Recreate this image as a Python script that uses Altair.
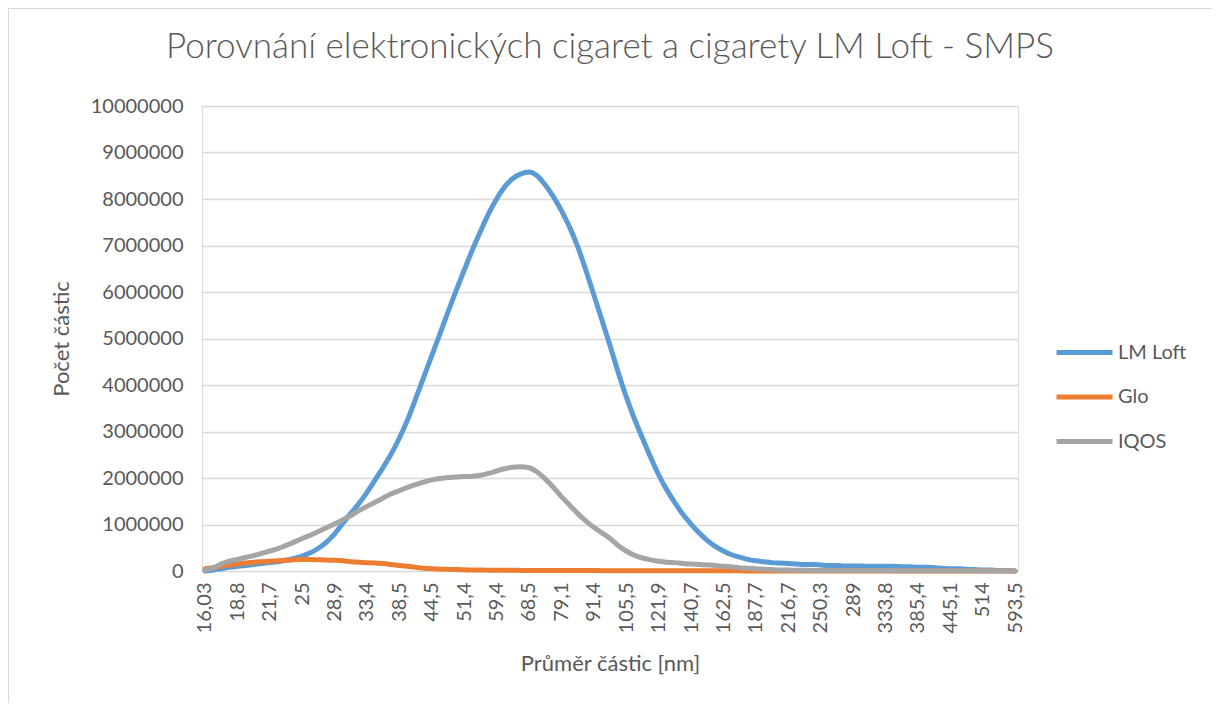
import altair as alt
import pandas as pd

# Category axis: particle diameters (nm) of the SMPS channels
diameters = [
    "16,03", "16,9", "17,5", "18,1", "18,8", "19,5", "20,2", "20,9", "21,7", "22,5",
    "23,3", "24,1", "25", "25,9", "26,9", "27,9", "28,9", "29,9", "31", "32,2",
    "33,4", "34,6", "35,9", "37,2", "38,5", "40", "41,4", "42,9", "44,5", "46,1",
    "47,8", "49,6", "51,4", "53,3", "55,2", "57,3", "59,4", "61,5", "63,8", "66,1",
    "68,5", "71", "73,7", "76,4", "79,1", "82", "85,1", "88,2", "91,4", "94,7",
    "98,2", "101,8", "105,5", "109,4", "113,4", "117,6", "121,9", "126,3", "131", "135,8",
    "140,7", "145,9", "151,2", "156,8", "162,5", "168,5", "174,7", "181,1", "187,7", "194,6",
    "201,7", "209,1", "216,7", "224,7", "232,9", "241,4", "250,3", "259,5", "269", "278,8",
    "289", "299,6", "310,6", "322", "333,8", "346", "358,7", "371,8", "385,4", "399,5",
    "414,2", "429,4", "445,1", "461,4", "478,3", "495,8", "514", "532,8", "552,3", "572,5",
    "593,5",
]

# Tick labels shown on the x axis
tick_labels = [
    "16,03", "18,8", "21,7", "25", "28,9", "33,4", "38,5", "44,5", "51,4", "59,4",
    "68,5", "79,1", "91,4", "105,5", "121,9", "140,7", "162,5", "187,7", "216,7", "250,3",
    "289", "333,8", "385,4", "445,1", "514", "593,5",
]

# Series values in millions of particles
lm_loft = [
    0.00, 0.02, 0.05, 0.08, 0.10, 0.12, 0.14, 0.16, 0.18, 0.20,
    0.23, 0.27, 0.32, 0.39, 0.49, 0.62, 0.80, 1.02, 1.24, 1.45,
    1.69, 1.96, 2.23, 2.52, 2.86, 3.25, 3.70, 4.17, 4.63, 5.10,
    5.57, 6.03, 6.47, 6.90, 7.30, 7.68, 8.00, 8.26, 8.44, 8.54,
    8.58, 8.50, 8.30, 8.05, 7.75, 7.40, 6.98, 6.48, 5.94, 5.40,
    4.85, 4.28, 3.75, 3.28, 2.86, 2.45, 2.07, 1.75, 1.47, 1.22,
    1.01, 0.82, 0.66, 0.53, 0.43, 0.35, 0.30, 0.25, 0.22, 0.20,
    0.18, 0.17, 0.16, 0.15, 0.14, 0.14, 0.13, 0.12, 0.12, 0.11,
    0.11, 0.11, 0.10, 0.10, 0.10, 0.10, 0.09, 0.09, 0.08, 0.08,
    0.07, 0.06, 0.05, 0.05, 0.04, 0.03, 0.02, 0.02, 0.01, 0.01,
    0.00,
]

glo = [
    0.05, 0.07, 0.10, 0.13, 0.15, 0.17, 0.19, 0.20, 0.21, 0.22,
    0.23, 0.24, 0.245, 0.245, 0.24, 0.235, 0.23, 0.22, 0.20, 0.19,
    0.18, 0.17, 0.16, 0.14, 0.12, 0.10, 0.08, 0.06, 0.05, 0.04,
    0.035, 0.03, 0.025, 0.02, 0.02, 0.018, 0.016, 0.015, 0.014, 0.013,
    0.012, 0.012, 0.011, 0.011, 0.010, 0.010, 0.010, 0.009, 0.009, 0.008,
    0.008, 0.008, 0.007, 0.007, 0.007, 0.006, 0.006, 0.006, 0.005, 0.005,
    0.005, 0.004, 0.004, 0.004, 0.003, 0.003, 0.003, 0.002, 0.002, 0.002,
    0.001, 0.001, 0.001, 0.001, 0.001, 0.0, 0.0, 0.0, 0.0, 0.0,
    0.0, 0.0, 0.0, 0.0, 0.0, 0.0, 0.0, 0.0, 0.0, 0.0,
    0.0, 0.0, 0.0, 0.0, 0.0, 0.0, 0.0, 0.0, 0.0, 0.0,
    0.0,
]

iqos = [
    0.02, 0.06, 0.15, 0.21, 0.25, 0.29, 0.33, 0.38, 0.43, 0.48,
    0.55, 0.62, 0.70, 0.77, 0.85, 0.93, 1.01, 1.10, 1.19, 1.30,
    1.39, 1.48, 1.57, 1.66, 1.73, 1.80, 1.86, 1.91, 1.96, 1.99,
    2.01, 2.02, 2.03, 2.04, 2.06, 2.10, 2.15, 2.20, 2.23, 2.24,
    2.22, 2.13, 1.98, 1.80, 1.60, 1.42, 1.24, 1.08, 0.94, 0.82,
    0.70, 0.55, 0.43, 0.34, 0.28, 0.24, 0.21, 0.19, 0.18, 0.16,
    0.15, 0.14, 0.13, 0.12, 0.10, 0.09, 0.07, 0.06, 0.05, 0.04,
    0.03, 0.02, 0.02, 0.015, 0.015, 0.012, 0.012, 0.01, 0.01, 0.01,
    0.01, 0.01, 0.01, 0.01, 0.01, 0.008, 0.008, 0.008, 0.006, 0.006,
    0.005, 0.005, 0.004, 0.004, 0.003, 0.003, 0.002, 0.002, 0.001, 0.001,
    0.0,
]

series_names = ["LM Loft", "Glo", "IQOS"]
series_colors = ["#5B9BD5", "#ED7D31", "#A5A5A5"]

rows = []
for name, vals in zip(series_names, [lm_loft, glo, iqos]):
    for i, (d, v) in enumerate(zip(diameters, vals)):
        rows.append({"d": d, "idx": i, "series": name, "count": v * 1_000_000,
                     "order": series_names.index(name)})
df = pd.DataFrame(rows)

TXT = "#595959"
FONT = "Lato"

lines = alt.Chart(df).mark_line(strokeWidth=5, interpolate="monotone", strokeCap="round", strokeJoin="round").encode(
    x=alt.X("d:O", sort=diameters,
            scale=alt.Scale(domain=diameters, padding=0.37),
            axis=alt.Axis(values=tick_labels, labelAngle=-90, labelFontSize=20, labelFont=FONT,
                          labelColor=TXT, labelPadding=11, ticks=False, domain=False, grid=False,
                          title="Průměr částic [nm]", titleFontSize=22, titleFont=FONT,
                          titleColor=TXT, titleFontWeight="normal", titlePadding=21)),
    y=alt.Y("count:Q",
            scale=alt.Scale(domain=[0, 10_000_000], nice=False),
            axis=alt.Axis(values=list(range(0, 10_000_001, 1_000_000)), format="d",
                          labelFontSize=20, labelFont=FONT, labelColor=TXT, labelPadding=19,
                          ticks=False, domain=False, gridColor="#D9D9D9", gridWidth=1.5,
                          title="Počet částic", titleFontSize=22, titleFont=FONT,
                          titleColor=TXT, titleFontWeight="normal", titlePadding=17)),
    color=alt.Color("series:N",
                    scale=alt.Scale(domain=series_names, range=series_colors),
                    legend=alt.Legend(title=None, orient="none", legendX=852, legendY=216,
                                      symbolType="stroke", symbolStrokeWidth=5, symbolSize=3136,
                                      labelFontSize=20, labelFont=FONT, labelColor=TXT,
                                      labelOffset=3, rowPadding=3.5)),
    order=alt.Order("order:Q"),
    detail="series:N",
)

border = alt.Chart(pd.DataFrame({"a": [0]})).mark_rect(
    fill=None, stroke="#D9D9D9", strokeWidth=1, clip=False
).encode(
    x=alt.value(-193.5), x2=alt.value(1013.5), y=alt.value(-97.5), y2=alt.value(620)
)

chart = alt.layer(border, lines).properties(
    width=816,
    height=465,
    title=alt.TitleParams("Porovnání elektronických cigaret a cigarety LM Loft - SMPS",
                          fontSize=35, font=FONT, fontWeight=300, color=TXT,
                          anchor="middle", frame="group", offset=-57),
    autosize=alt.AutoSizeParams(type="none"),
    padding={"left": 194, "top": 98, "right": 194, "bottom": 132},
).configure_view(stroke=None).configure(background="white")

chart.save("out.html", embed_options={"renderer": "svg", "actions": False})
